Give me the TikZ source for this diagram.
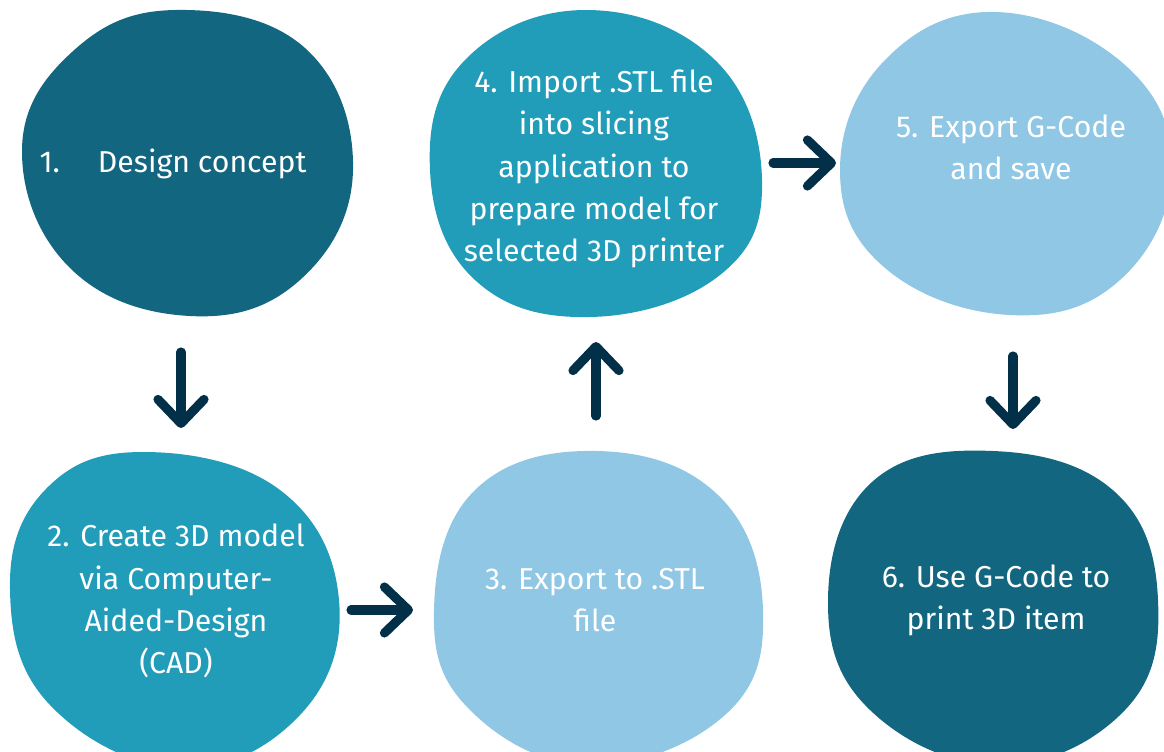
\documentclass[tikz,border=0pt]{standalone}
\usepackage{fontspec}
\setmainfont{Fira Sans}
\usetikzlibrary{arrows.meta}

\definecolor{deepteal}{HTML}{126680}
\definecolor{midteal}{HTML}{219DBA}
\definecolor{paleblue}{HTML}{8FC7E4}
\definecolor{navy}{HTML}{033049}

\tikzset{
  stage/.style={text=white, align=center, font=\fontsize{21.5}{30}\selectfont},
  blob/.style={smooth cycle, tension=0.7},
  flow/.style={draw=navy, line width=6.5pt, line cap=round,
    -{Straight Barb[length=0.6cm, width=1.15cm, round]}},
}

\begin{document}
\begin{tikzpicture}[x=0.025cm, y=-0.025cm]
    \useasboundingbox (0,0) rectangle (1164,751);
    \clip (0,0) rectangle (1164,751);
    % blobs
    \fill[deepteal] plot[blob] coordinates {(175,10) (305,48) (353,170) (300,280) (190,316) (70,268) (22,150) (72,52)};
    \fill[midteal] plot[blob] coordinates {(586,10) (715,60) (762,180) (720,275) (590,317) (475,280) (430,170) (465,60)};
    \fill[paleblue] plot[blob] coordinates {(995,12) (1125,65) (1172,170) (1120,280) (1010,315) (885,268) (840,170) (885,60)};
    \fill[midteal] plot[blob] coordinates {(143,452) (280,490) (339,600) (300,715) (180,768) (50,705) (10,590) (45,490)};
    \fill[paleblue] plot[blob] coordinates {(597,451) (718,495) (763,610) (725,715) (590,765) (470,710) (434,610) (475,490)};
    \fill[deepteal] plot[blob] coordinates {(993,451) (1115,492) (1158,600) (1125,710) (1000,765) (870,710) (828,600) (872,482)};

    % steps
    \node[stage] (design) at (173,164) {1.\hspace{0.95cm}Design concept};
    \node[stage] (cad) at (176,601) {2. Create 3D model\\via Computer-\\Aided-Design\\(CAD)};
    \node[stage] (stl) at (595,600) {3. Export to .STL\\file};
    \node[stage] (slice) at (594,169) {4. Import .STL file\\into slicing\\application to\\prepare model for\\selected 3D printer};
    \node[stage] (gcode) at (1011,147) {5. Export G-Code\\and save};
    \node[stage] (print) at (996,600) {6. Use G-Code to\\print 3D item};

    % arrows
    \coordinate (design-out) at (181,352);
    \coordinate (cad-in) at (181,428);
    \coordinate (cad-out) at (351,610);
    \coordinate (stl-in) at (413,610);
    \coordinate (stl-out) at (596,416);
    \coordinate (slice-in) at (596,342);
    \coordinate (slice-out) at (773,163);
    \coordinate (gcode-in) at (836,163);
    \coordinate (gcode-out) at (1013,356);
    \coordinate (print-in) at (1013,429);
    \draw[flow] (design-out) -- (cad-in);
    \draw[flow] (cad-out) -- (stl-in);
    \draw[flow] (stl-out) -- (slice-in);
    \draw[flow] (slice-out) -- (gcode-in);
    \draw[flow] (gcode-out) -- (print-in);
\end{tikzpicture}
\end{document}
